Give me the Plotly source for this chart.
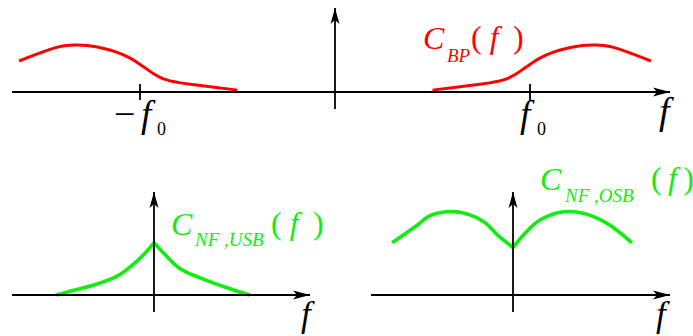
import plotly.graph_objects as go

# ---- spectra (f in units of f0, C in arbitrary units) ----
# band-pass spectrum, positive-frequency half; the negative half mirrors it
bp_f = [0.50, 0.62, 0.71, 0.80, 0.88, 0.93, 0.98, 1.05, 1.12, 1.19, 1.27, 1.34, 1.41, 1.48, 1.62]
bp_c = [0.04, 0.10, 0.15, 0.20, 0.28, 0.39, 0.53, 0.72, 0.85, 0.93, 0.99, 1.00, 0.97, 0.88, 0.66]

# noise floor, upper side band (cusp at f = 0)
usb_f_neg = [-0.50, -0.40, -0.28, -0.19, -0.11, -0.06, 0.00]
usb_c_neg = [0.00, 0.11, 0.25, 0.40, 0.64, 0.83, 1.11]
usb_f_pos = [0.00, 0.05, 0.13, 0.24, 0.37, 0.49]
usb_c_pos = [1.11, 0.89, 0.57, 0.36, 0.16, 0.00]

# noise floor, other side band (dip at f = 0)
osb_f_neg = [-0.62, -0.49, -0.43, -0.34, -0.26, -0.15, -0.08, 0.00]
osb_c_neg = [1.11, 1.49, 1.68, 1.77, 1.75, 1.56, 1.28, 1.01]
osb_f_pos = [0.00, 0.07, 0.14, 0.26, 0.36, 0.48, 0.61]
osb_c_pos = [1.01, 1.35, 1.60, 1.77, 1.74, 1.53, 1.11]

tick_f = [-1.0, 1.0]

# ---- page geometry ----
W, H = 693, 336
SX, SY = 195.0, 47.0          # pixels per unit of f and of C
RED = "#ff0000"
GREEN = "rgb(16,238,16)"
BLACK = "#000000"
SERIF = "Liberation Serif"

# panel boxes (pixels) and the pixel position of each origin
panels = [
    dict(x="x",  y="y",  box=(0, 693, 0, 150),   org=(335, 92),
         haxis=(-1.656, 1.718), vaxis=(-0.362, 1.787)),
    dict(x="x2", y="y2", box=(0, 346, 150, 336), org=(154, 295),
         haxis=(-0.728, 0.800), vaxis=(-0.362, 2.19)),
    dict(x="x3", y="y3", box=(346, 693, 150, 336), org=(513, 295),
         haxis=(-0.728, 0.805), vaxis=(-0.362, 2.19)),
]

fig = go.Figure()
layout = dict(width=W, height=H, margin=dict(l=0, r=0, t=0, b=0),
              paper_bgcolor="white", plot_bgcolor="white",
              showlegend=False, font=dict(family=SERIF))
shapes = []

for p in panels:
    x0, x1, y0, y1 = p["box"]
    ox, oy = p["org"]
    xname = "xaxis" + p["x"][1:]
    yname = "yaxis" + p["y"][1:]
    layout[xname] = dict(domain=[x0 / W, x1 / W],
                         range=[(x0 - ox) / SX, (x1 - ox) / SX],
                         visible=False, anchor=p["y"], fixedrange=True)
    layout[yname] = dict(domain=[1 - y1 / H, 1 - y0 / H],
                         range=[(oy - y1) / SY, (oy - y0) / SY],
                         visible=False, anchor=p["x"], fixedrange=True)
    ha, hb = p["haxis"]
    va, vb = p["vaxis"]
    # axis lines
    shapes.append(dict(type="line", xref=p["x"], yref=p["y"],
                       x0=ha, x1=hb, y0=0, y1=0,
                       line=dict(color=BLACK, width=1.8)))
    shapes.append(dict(type="line", xref=p["x"], yref=p["y"],
                       x0=0, x1=0, y0=va, y1=vb,
                       line=dict(color=BLACK, width=1.8)))
    # arrow heads, sized in pixels
    shapes.append(dict(type="path", xref=p["x"], yref=p["y"],
                       xsizemode="pixel", ysizemode="pixel",
                       xanchor=hb, yanchor=0,
                       path="M0,0 L-17,4.5 L-13,0 L-17,-4.5 Z",
                       fillcolor=BLACK, line=dict(width=0)))
    shapes.append(dict(type="path", xref=p["x"], yref=p["y"],
                       xsizemode="pixel", ysizemode="pixel",
                       xanchor=0, yanchor=vb,
                       path="M0,0 L-4.5,-16 L0,-12 L4.5,-16 Z",
                       fillcolor=BLACK, line=dict(width=0)))

# tick marks at +/- f0 on the band-pass axis
for t in tick_f:
    shapes.append(dict(type="line", xref="x", yref="y",
                       xsizemode="scaled", ysizemode="pixel",
                       yanchor=0, x0=t, x1=t, y0=-8, y1=8,
                       line=dict(color=BLACK, width=1.8)))


def curve(fx, cy, color, width, xa, ya):
    fig.add_trace(go.Scatter(x=fx, y=cy, mode="lines", xaxis=xa, yaxis=ya,
                             line=dict(color=color, width=width,
                                       shape="spline", smoothing=1.1),
                             hoverinfo="skip"))


# band-pass spectrum, both halves
curve(bp_f, bp_c, RED, 3, "x", "y")
curve([-v for v in bp_f], bp_c, RED, 3, "x", "y")
# side-band noise floors
curve(usb_f_neg, usb_c_neg, GREEN, 3.6, "x2", "y2")
curve(usb_f_pos, usb_c_pos, GREEN, 3.6, "x2", "y2")
curve(osb_f_neg, osb_c_neg, GREEN, 3.6, "x3", "y3")
curve(osb_f_pos, osb_c_pos, GREEN, 3.6, "x3", "y3")

annotations = []


def text_at(s, left, base, size, color):
    """Place text with its left edge at `left` px and baseline at `base` px."""
    yc = base - 0.3375 * size
    annotations.append(dict(x=left / W, y=1 - yc / H, xref="paper", yref="paper",
                            xanchor="left", yanchor="middle", text=s,
                            showarrow=False, borderpad=0, borderwidth=0,
                            font=dict(family=SERIF, size=size, color=color)))


NB = "\u00a0"
THIN = "\u2009"
PAREN = "(" + NB + "<i>f</i>" + NB + THIN + ")"
PAREN_TIGHT = "(" + THIN + "<i>f</i>" + THIN + ")"

# C_BP(f)
text_at("<i>C</i>", 423, 49, 32, RED)
text_at("<i>BP</i>", 447, 62, 19, RED)
text_at(PAREN, 471, 48, 32, RED)
# C_NF,USB(f)
text_at("<i>C</i>", 171, 235, 32, GREEN)
text_at("<i>NF</i>" + NB + "<i>,USB</i>", 194, 246, 19, GREEN)
text_at(PAREN, 271, 234, 32, GREEN)
# C_NF,OSB(f)
text_at("<i>C</i>", 540, 190, 32, GREEN)
text_at("<i>NF</i>" + NB + "<i>,OSB</i>", 564, 202, 19, GREEN)
text_at(PAREN_TIGHT, 651, 189, 32, GREEN)

# frequency axis labels
text_at("<i>f</i>", 659, 124, 38, BLACK)
text_at("\u2212", 114, 127, 38, BLACK)
text_at("<i>f</i>", 141, 127, 37, BLACK)
text_at("0", 157, 135, 18, BLACK)
text_at("<i>f</i>", 520, 127, 37, BLACK)
text_at("0", 537, 135, 18, BLACK)
text_at("<i>f</i>", 301, 326, 35, BLACK)
text_at("<i>f</i>", 656, 326, 35, BLACK)

layout["shapes"] = shapes
layout["annotations"] = annotations
fig.update_layout(**layout)
fig.write_html("out.html", config={"displayModeBar": False})
